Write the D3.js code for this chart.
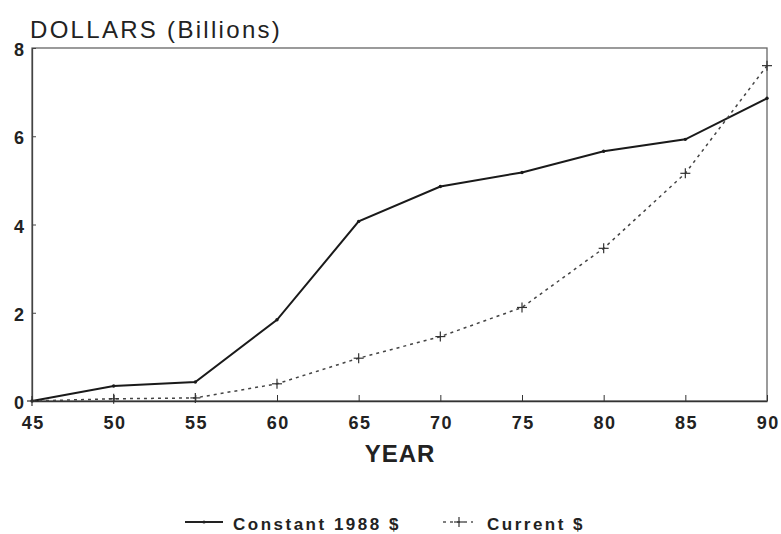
<!DOCTYPE html>
<html><head><meta charset="utf-8">
<script src="https://cdn.jsdelivr.net/npm/d3@7"></script>
<style>
body{margin:0;background:#fff;}
text{font-family:"Liberation Sans",Arial,sans-serif;fill:#222;}
</style></head>
<body><svg id="c" width="781" height="534"></svg>
<script>
const years = [45,50,55,60,65,70,75,80,85,90];
const constant1988 = [0.0,0.34,0.43,1.84,4.07,4.86,5.18,5.66,5.93,6.86];
const current = [0.0,0.05,0.07,0.39,0.97,1.46,2.12,3.46,5.16,7.6];
const xTicks = [45,50,55,60,65,70,75,80,85,90];
const yTicks = [0,2,4,6,8];

const svg = d3.select("#c");
const x = d3.scaleLinear().domain([45,90]).range([32,767]);
const y = d3.scaleLinear().domain([0,8]).range([401,48]);

// frame
svg.append("rect").attr("x",x(45)).attr("y",y(8)).attr("width",x(90)-x(45)).attr("height",y(0)-y(8))
  .attr("fill","none").attr("stroke","#666").attr("stroke-width",1.3);

const xa = svg.append("g").attr("transform",`translate(0,${y(0)})`)
  .call(d3.axisBottom(x).tickValues(xTicks).tickSizeInner(-6).tickSizeOuter(0).tickPadding(15));
xa.select(".domain").attr("stroke","#333").attr("stroke-width",1.6);
xa.selectAll("line").attr("stroke","#333");
xa.selectAll("text").attr("font-size",18).attr("font-weight","bold").attr("letter-spacing",1.5).attr("fill","#333").attr("dx","0.75");

const ya = svg.append("g").attr("transform",`translate(${x(45)},0)`)
  .call(d3.axisLeft(y).tickValues(yTicks).tickSizeInner(-4).tickSizeOuter(0).tickPadding(8));
ya.select(".domain").attr("stroke","#444").attr("stroke-width",1.3);
ya.selectAll("line").attr("stroke","#444");
ya.selectAll("text").attr("font-size",18).attr("font-weight","bold").attr("fill","#333").attr("dy","0.42em");

const line = d3.line().x((d,i)=>x(years[i])).y(d=>y(d));
svg.append("path").datum(constant1988).attr("d",line).attr("fill","none").attr("stroke","#1a1a1a").attr("stroke-width",2);
svg.append("path").datum(current).attr("d",line).attr("fill","none").attr("stroke","#444").attr("stroke-width",1.5).attr("stroke-dasharray","3,4");

svg.selectAll(".cm").data(constant1988).enter().append("circle").attr("cx",(d,i)=>x(years[i])).attr("cy",d=>y(d)).attr("r",1.7).attr("fill","#1a1a1a");
const pl = svg.selectAll(".pm").data(current).enter().append("g").attr("transform",(d,i)=>`translate(${x(years[i])},${y(d)})`);
pl.append("line").attr("x1",-5).attr("x2",5).attr("stroke","#333").attr("stroke-width",1.2);
pl.append("line").attr("y1",-5).attr("y2",5).attr("stroke","#333").attr("stroke-width",1.2);

svg.append("text").attr("x",30).attr("y",38).attr("font-size",24).attr("letter-spacing",2.3).text("DOLLARS (Billions)");
svg.append("text").attr("x",400).attr("y",462).attr("text-anchor","middle").attr("font-size",24).attr("font-weight","bold").attr("letter-spacing",1).text("YEAR");

// legend
svg.append("line").attr("x1",185).attr("x2",223).attr("y1",522).attr("y2",522).attr("stroke","#222").attr("stroke-width",1.8);
svg.append("circle").attr("cx",204).attr("cy",522).attr("r",1.6).attr("fill","#222");
svg.append("text").attr("x",233).attr("y",530).attr("font-size",17).attr("font-weight","bold").attr("letter-spacing",2.5).attr("fill","#333").text("Constant 1988 $");
svg.append("line").attr("x1",443).attr("x2",473).attr("y1",522).attr("y2",522).attr("stroke","#555").attr("stroke-width",1.4).attr("stroke-dasharray","3,4");
svg.append("line").attr("x1",454).attr("x2",464).attr("y1",522).attr("y2",522).attr("stroke","#333").attr("stroke-width",1.2);
svg.append("line").attr("x1",459).attr("x2",459).attr("y1",517).attr("y2",527).attr("stroke","#333").attr("stroke-width",1.2);
svg.append("text").attr("x",487).attr("y",530).attr("font-size",17).attr("font-weight","bold").attr("letter-spacing",2.5).attr("fill","#333").text("Current $");
</script></body></html>
